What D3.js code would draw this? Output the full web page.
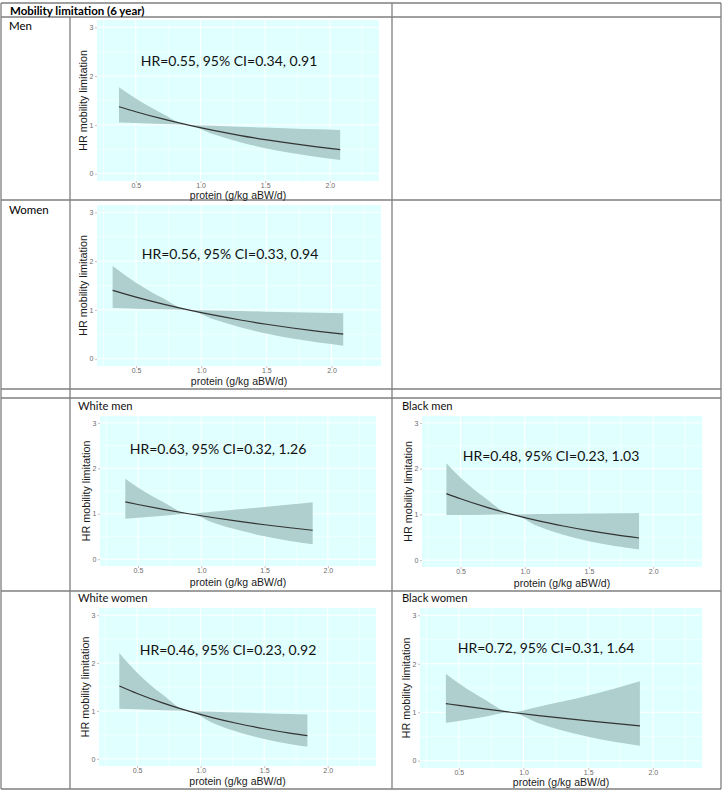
<!DOCTYPE html>
<html><head><meta charset="utf-8">
<script src="https://cdn.jsdelivr.net/npm/d3@7"></script>
<style>body{margin:0;background:#fff}</style>
</head><body>
<svg id="c" width="724" height="792"></svg>
<script>
// ---------------- data ----------------
const tableTitle = "Mobility limitation (6 year)";
const rowLabels = ["Men", "Women"];
const panelTitles = ["", "", "White men", "Black men", "White women", "Black women"];
const hrLabels = [
  "HR=0.55, 95% CI=0.34, 0.91",
  "HR=0.56, 95% CI=0.33, 0.94",
  "HR=0.63, 95% CI=0.32, 1.26",
  "HR=0.48, 95% CI=0.23, 1.03",
  "HR=0.46, 95% CI=0.23, 0.92",
  "HR=0.72, 95% CI=0.31, 1.64"
];
const xTicks = [0.5, 1.0, 1.5, 2.0];
const xTickLabels = ["0.5", "1.0", "1.5", "2.0"];
const yTicks = [0, 1, 2, 3];
const yTickLabels = ["0", "1", "2", "3"];
const xTitle = "protein (g/kg aBW/d)";
const yTitle = "HR mobility limitation";

// Men
const menX  = [0.37, 0.5, 0.7, 0.9, 1.1, 1.3, 1.5, 1.7, 1.9, 2.08];
const menHR = [1.373, 1.270, 1.127, 1, 0.887, 0.787, 0.699, 0.620, 0.550, 0.494];
const menLo = [1.051, 1.038, 1.019, 1, 0.806, 0.650, 0.523, 0.422, 0.340, 0.280];
const menHi = [1.771, 1.540, 1.241, 1, 0.981, 0.963, 0.945, 0.927, 0.910, 0.895];
// Women
const womenX  = [0.32, 0.5, 0.7, 0.9, 1.1, 1.3, 1.5, 1.7, 1.9, 2.09];
const womenHR = [1.400, 1.261, 1.123, 1, 0.891, 0.793, 0.706, 0.629, 0.560, 0.502];
const womenLo = [1.037, 1.025, 1.012, 1, 0.801, 0.642, 0.514, 0.412, 0.330, 0.267];
const womenHi = [1.902, 1.558, 1.248, 1, 0.988, 0.976, 0.964, 0.952, 0.940, 0.929];
// White men
const wmX  = [0.40, 0.5, 0.7, 0.9, 1.1, 1.3, 1.5, 1.7, 1.88];
const wmHR = [1.260, 1.203, 1.097, 1, 0.912, 0.831, 0.758, 0.691, 0.636];
const wmLo = [0.891, 0.912, 0.955, 1, 0.796, 0.634, 0.505, 0.402, 0.327];
const wmHi = [1.768, 1.577, 1.256, 1, 1.047, 1.097, 1.149, 1.203, 1.254];
// Black men
const bmX  = [0.39, 0.5, 0.7, 0.9, 1.1, 1.3, 1.5, 1.7, 1.89];
const bmHR = [1.454, 1.341, 1.158, 1, 0.863, 0.746, 0.644, 0.556, 0.484];
const bmLo = [0.985, 0.988, 0.994, 1, 0.745, 0.555, 0.414, 0.309, 0.233];
const bmHi = [2.116, 1.800, 1.342, 1, 1.006, 1.012, 1.018, 1.024, 1.030];
// White women
const wwX  = [0.36, 0.5, 0.7, 0.9, 1.1, 1.3, 1.5, 1.7, 1.84];
const wwHR = [1.521, 1.364, 1.168, 1, 0.856, 0.733, 0.628, 0.537, 0.482];
const wwLo = [1.046, 1.034, 1.017, 1, 0.745, 0.555, 0.414, 0.309, 0.251];
const wwHi = [2.211, 1.800, 1.342, 1, 0.983, 0.967, 0.951, 0.935, 0.925];
// Black women
const bwX  = [0.40, 0.5, 0.7, 0.9, 1.1, 1.3, 1.5, 1.7, 1.9];
const bwHR = [1.179, 1.140, 1.068, 1, 0.936, 0.877, 0.821, 0.769, 0.720];
const bwLo = [0.781, 0.820, 0.906, 1, 0.791, 0.626, 0.495, 0.392, 0.310];
const bwHi = [1.796, 1.598, 1.264, 1, 1.104, 1.219, 1.346, 1.486, 1.640];

const series = [
  [menX, menHR, menLo, menHi],
  [womenX, womenHR, womenLo, womenHi],
  [wmX, wmHR, wmLo, wmHi],
  [bmX, bmHR, bmLo, bmHi],
  [wwX, wwHR, wwLo, wwHi],
  [bwX, bwHR, bwLo, bwHi]
];

// ---------------- layout ----------------
const panelRects = [
  [97, 20, 379, 181],
  [97, 205, 381, 366],
  [100, 416, 376, 566],
  [422, 416, 702, 567],
  [99, 608, 376, 766],
  [420, 608, 702, 768]
];
const hrPos = [[229, 66], [230, 259], [218, 454], [551, 461], [228, 655], [546, 653]];
const titlePos = [null, null, [78, 410], [402, 410], [78, 602], [402, 602]];
const xTitleOffset = [17.5, 19, 20, 19.5, 19, 18];
const xDomain = [0.2, 2.38];
const yDomain = [-0.15, 3.15];

const svg = d3.select("#c");
const tableFont = "Lato, 'Open Sans', sans-serif";
const plotFont = "'Liberation Sans', Arial, sans-serif";

// ---- table grid ----
const gridColor = "#7f7f7f";
const hLines = [[1, 721, 3], [1, 721, 17], [1, 721, 200], [1, 721, 389], [1, 721, 398], [1, 721, 591], [1, 721, 789]];
const vLines = [[1, 3, 789], [721, 3, 789], [70, 17, 789], [392, 3, 789]];
const tg = svg.append("g");
hLines.forEach(l => tg.append("line").attr("x1", l[0]).attr("x2", l[1]).attr("y1", l[2]).attr("y2", l[2])
  .attr("stroke", gridColor).attr("stroke-width", 1.3));
vLines.forEach(l => tg.append("line").attr("x1", l[0]).attr("x2", l[0]).attr("y1", l[1]).attr("y2", l[2])
  .attr("stroke", gridColor).attr("stroke-width", 1.3));

tg.append("text").attr("x", 10).attr("y", 14.5).text(tableTitle)
  .attr("font-family", tableFont).attr("font-weight", "bold").attr("font-size", 11.5).attr("fill", "#000");
tg.append("text").attr("x", 9).attr("y", 30).text(rowLabels[0])
  .attr("font-family", tableFont).attr("font-size", 11.5).attr("fill", "#000");
tg.append("text").attr("x", 9).attr("y", 214).text(rowLabels[1])
  .attr("font-family", tableFont).attr("font-size", 11.5).attr("fill", "#000");

// ---- panels ----
series.forEach((s, i) => {
  const [x0, y0, x1, y1] = panelRects[i];
  const x = d3.scaleLinear().domain(xDomain).range([x0, x1]);
  const y = d3.scaleLinear().domain(yDomain).range([y1, y0]);
  const g = svg.append("g");

  if (titlePos[i]) {
    g.append("text").attr("x", titlePos[i][0]).attr("y", titlePos[i][1]).text(panelTitles[i])
      .attr("font-family", tableFont).attr("font-size", 11.2).attr("fill", "#111");
  }

  g.append("rect").attr("x", x0).attr("y", y0).attr("width", x1 - x0).attr("height", y1 - y0)
    .attr("fill", "#e0ffff");

  // grid
  const xMinor = [0.25, 0.75, 1.25, 1.75, 2.25];
  const yMinor = [0.5, 1.5, 2.5];
  xMinor.forEach(v => g.append("line").attr("x1", x(v)).attr("x2", x(v)).attr("y1", y0).attr("y2", y1)
    .attr("stroke", "#fff").attr("stroke-width", 0.5));
  yMinor.forEach(v => g.append("line").attr("y1", y(v)).attr("y2", y(v)).attr("x1", x0).attr("x2", x1)
    .attr("stroke", "#fff").attr("stroke-width", 0.5));
  xTicks.forEach(v => g.append("line").attr("x1", x(v)).attr("x2", x(v)).attr("y1", y0).attr("y2", y1)
    .attr("stroke", "#fff").attr("stroke-width", 1));
  yTicks.forEach(v => g.append("line").attr("y1", y(v)).attr("y2", y(v)).attr("x1", x0).attr("x2", x1)
    .attr("stroke", "#fff").attr("stroke-width", 1));

  const pts = s[0].map((xv, k) => ({ x: xv, hr: s[1][k], lo: s[2][k], hi: s[3][k] }));
  g.append("path").datum(pts)
    .attr("d", d3.area().x(d => x(d.x)).y0(d => y(d.lo)).y1(d => y(d.hi)).curve(d3.curveMonotoneX))
    .attr("fill", "#afcfcf");
  g.append("path").datum(pts)
    .attr("d", d3.line().x(d => x(d.x)).y(d => y(d.hr)).curve(d3.curveMonotoneX))
    .attr("fill", "none").attr("stroke", "#333").attr("stroke-width", 1.2);

  // axes
  const ax = d3.axisBottom(x).tickValues(xTicks).tickFormat((d, k) => xTickLabels[k]).tickSize(2);
  const ay = d3.axisLeft(y).tickValues(yTicks).tickFormat((d, k) => yTickLabels[k]).tickSize(2).tickPadding(1.5);
  const gx = g.append("g").attr("transform", `translate(0,${y1})`).call(ax);
  const gy = g.append("g").attr("transform", `translate(${x0},0)`).call(ay);
  [gx, gy].forEach(a => {
    a.select(".domain").remove();
    a.selectAll(".tick line").attr("stroke", "#9a9a9a").attr("stroke-width", 0.6);
    a.selectAll(".tick text").attr("fill", "#6b6b6b").attr("font-size", 7).attr("font-family", plotFont);
  });
  gx.selectAll(".tick text").attr("y", 7).attr("dy", null);

  g.append("text").attr("x", (x0 + x1) / 2).attr("y", y1 + xTitleOffset[i]).attr("text-anchor", "middle")
    .text(xTitle).attr("font-family", plotFont).attr("font-size", 10.5).attr("fill", "#1a1a1a");
  g.append("text").attr("transform", `translate(${x0 - 10},${(y0 + y1) / 2}) rotate(-90)`)
    .attr("text-anchor", "middle").text(yTitle)
    .attr("font-family", plotFont).attr("font-size", 10.8).attr("fill", "#1a1a1a");

  g.append("text").attr("x", hrPos[i][0]).attr("y", hrPos[i][1]).attr("text-anchor", "middle")
    .text(hrLabels[i]).attr("font-family", tableFont).attr("font-size", 14).attr("fill", "#111");
});
</script>
</body></html>
